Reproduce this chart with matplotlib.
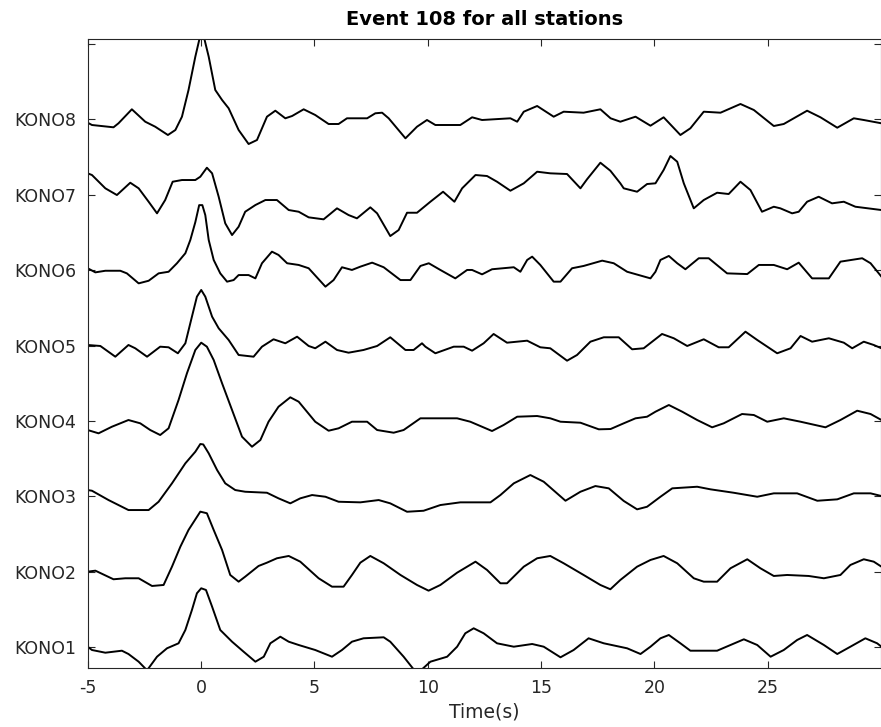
import matplotlib
matplotlib.use("Agg")
from matplotlib import pyplot as plt
import numpy as np

# station names, bottom to top
stations = ["KONO1", "KONO2", "KONO3", "KONO4", "KONO5", "KONO6", "KONO7", "KONO8"]

# traces: time (s) and amplitude (arbitrary units)
t_kono1 = [-5.0, -4.81, -4.22, -3.49, -3.2, -2.75, -2.38, -1.94, -1.5, -0.99, -0.69, -0.4, -0.18, 0.01, 0.22,
           0.49, 0.85, 1.37, 1.88, 2.4, 2.77, 3.06, 3.5, 3.87, 4.31, 5.04, 5.78, 6.22, 6.66, 7.17, 8.06, 8.35,
           8.94, 9.38, 9.75, 10.12, 10.86, 11.3, 11.66, 12.03, 12.47, 13.06, 13.8, 14.61, 15.12, 15.86, 16.44,
           17.1, 17.77, 18.8, 19.39, 19.83, 20.27, 20.64, 21.15, 21.59, 22.77, 23.36, 23.95, 24.54, 25.13,
           25.71, 26.3, 26.74, 27.48, 28.07, 28.65, 29.31, 29.83, 30.02]
a_kono1 = [0.6, -2.7, -5.4, -3.4, -6.7, -14.4, -23, -9.4, -1, 4, 17.3, 37.3, 54, 59, 57.3,
           40.6, 17.3, 5.6, -4.4, -14.4, -9.4, 4, 10.6, 5.6, 2.3, -2.7, -9.4, -2.7, 5.6, 9, 10, 5.6,
           -9.4, -22, -22, -14.4, -9.4, 0.6, 14, 19, 14, 4, 0.6, 3.3, 0.6, -10, -2.7,
           9, 4, -1, -6.7, 0.6, 9, 12.3, 4, -3.4, -3.4, 2.3, 8, 2.3, -9.4,
           -2.7, 7.3, 12.3, 2.3, -6.7, 0.6, 9, 4, 0.6]

t_kono2 = [-5.0, -4.66, -3.86, -3.34, -2.75, -2.16, -1.65, -1.28, -0.91, -0.55, -0.03, 0.26, 0.56, 0.93,
           1.29, 1.66, 1.95, 2.54, 2.91, 3.35, 3.87, 4.38, 5.19, 5.78, 6.29, 6.66, 7.03, 7.47, 8.06, 8.8,
           9.53, 10.04, 10.56, 11.3, 12.11, 12.62, 13.21, 13.5, 14.24, 14.83, 15.41, 16.0, 16.88, 17.62,
           18.06, 18.5, 19.24, 19.83, 20.41, 21.01, 21.74, 22.18, 22.77, 23.36, 24.1, 24.68, 25.27, 25.86,
           26.81, 27.48, 28.21, 28.65, 29.24, 29.68, 30.02]
a_kono2 = [0.2, 1.2, -7.4, -6.4, -6.4, -14.1, -13.1, 5.2, 25.2, 41.9, 60.2, 58.6, 41.9, 21.9,
           -3.1, -9.8, -4.8, 5.9, 9.2, 13.6, 15.9, 10.2, -6.4, -14.8, -14.8, -3.1, 9.2, 15.9, 8.6, -3.1,
           -13.1, -18.8, -13.1, -0.8, 10.2, 1.9, -11.4, -11.4, 5.2, 13.6, 15.9, 8.6, -3.1, -13.1,
           -17.4, -8.1, 5.2, 11.9, 15.9, 8.6, -6.4, -9.8, -9.8, 3.6, 12.6, 3.6, -4.1, -3.1,
           -4.1, -6.4, -3.1, 6.9, 12.6, 10.2, 5.2]

t_kono3 = [-5.0, -4.81, -4.08, -3.2, -2.31, -1.87, -1.28, -0.69, -0.25, -0.03, 0.1, 0.34, 0.71, 1.07,
           1.51, 1.95, 2.91, 3.42, 3.94, 4.38, 4.9, 5.49, 6.07, 7.03, 7.84, 8.35, 9.09, 9.82, 10.56, 11.44,
           12.77, 13.21, 13.8, 14.53, 15.12, 16.08, 16.74, 17.4, 17.99, 18.65, 19.24, 19.68, 20.27, 20.79,
           21.89, 22.48, 23.5, 24.54, 25.27, 26.3, 27.19, 28.07, 28.8, 29.54, 30.02]
a_kono3 = [6.4, 5.7, -3.6, -13.6, -13.6, -5.3, 13.1, 33.1, 44.7, 52.4, 52, 43.1, 26.4, 13.1,
           6.4, 4.7, 3.7, -1.9, -6.9, -1.9, 1.4, -0.3, -5.3, -5.9, -3.6, -6.9, -15.3, -14.3, -8.6, -5.9,
           -5.9, 1.4, 13.1, 21.4, 14.7, -4.3, 4.7, 10.4, 8.1, -4.5, -12.9, -10.3, -0.3, 8.1,
           9.7, 7.1, 3.7, -0.3, 3.1, 3.1, -4.3, -2.9, 3.1, 3.1, 0.4]

t_kono4 = [-5.0, -4.52, -3.93, -3.2, -2.68, -2.24, -1.8, -1.43, -0.99, -0.62, -0.25, 0.01, 0.26, 0.56,
           0.93, 1.37, 1.81, 2.25, 2.62, 2.98, 3.42, 3.94, 4.31, 5.04, 5.63, 6.07, 6.66, 7.33, 7.77, 8.5,
           8.94, 9.68, 11.3, 11.88, 12.84, 13.35, 13.95, 14.83, 15.41, 15.86, 16.74, 17.55, 18.07, 18.65,
           19.17, 19.68, 20.05, 20.64, 21.23, 21.89, 22.55, 23.06, 23.87, 24.39, 24.98, 25.71, 26.45,
           27.55, 28.21, 28.95, 29.54, 30.02]
a_kono4 = [-9, -12.3, -5.7, 1, -2.3, -9, -14, -7.3, 21, 47.7, 71, 78.3, 74.3, 61,
           37.7, 11, -15.7, -25.7, -19, -0.7, 14.3, 23.7, 19.3, -0.7, -9.7, -7.3, -0.7, -0.7, -9, -11.7,
           -9, 2.7, 2.7, -0.7, -10, -4, 4.3, 5, 2.7, -0.7, -1.7, -8.3, -8, -2.3,
           2.7, 4.3, 9.3, 16, 9.3, 1, -6.3, -2.3, 7, 6, -0.7, 2.7, -0.7,
           -6.3, 1, 10.3, 7, 1]

t_kono5 = [-5.0, -4.44, -3.78, -3.2, -2.9, -2.38, -1.8, -1.43, -1.02, -0.69, -0.4, -0.18, 0.01, 0.19,
           0.49, 0.78, 1.22, 1.66, 2.32, 2.69, 3.2, 3.72, 4.24, 4.75, 5.04, 5.49, 6.0, 6.51, 7.17, 7.77,
           8.35, 9.02, 9.38, 9.75, 9.9, 10.34, 11.15, 11.59, 11.96, 12.47, 12.91, 13.5, 14.39, 14.97,
           15.41, 16.15, 16.59, 17.18, 17.77, 18.43, 19.02, 19.53, 20.34, 20.86, 21.45, 22.18, 22.84,
           23.28, 24.02, 24.54, 25.42, 26.01, 26.45, 26.96, 27.7, 28.36, 28.73, 29.24, 29.68, 30.02]
a_kono5 = [0.6, -0.4, -11.1, 0.6, -2.7, -11.1, -1.1, -1.7, -7.7, 2.3, 28.9, 48.9, 55.6, 48.9,
           28.9, 17.3, 5.6, -9.4, -11.1, -1.1, 6.3, 2.3, 8.9, -0.4, -2.7, 3.9, -4.4, -7.1, -4.4, -0.4,
           8.3, -4.4, -4.4, 2.3, -1.1, -7.7, -1.1, -1.1, -5.1, 2.3, 11.6, 2.9, 4.9, -1.7,
           -2.7, -15.1, -9.4, 3.9, 8.3, 8.3, -3.7, -2.7, 11.6, 7.3, -0.4, 6.3, -1.7,
           -1.7, 13.9, 5.6, -7.7, -2.7, 9.6, 3.9, 7.3, 2.9, -2.7, 3.9, 0.6, -2.7]

t_kono6 = [-5.0, -4.66, -4.22, -3.56, -3.27, -2.75, -2.31, -1.87, -1.43, -1.06, -0.69, -0.47, -0.25,
           -0.08, 0.06, 0.19, 0.34, 0.56, 0.85, 1.15, 1.44, 1.66, 2.1, 2.4, 2.69, 3.13, 3.42, 3.8, 4.31,
           4.75, 5.49, 5.85, 6.22, 6.66, 7.03, 7.55, 8.06, 8.8, 9.24, 9.68, 10.05, 10.56, 11.22, 11.74,
           11.96, 12.4, 12.84, 13.8, 14.09, 14.39, 14.61, 14.97, 15.56, 15.86, 16.37, 16.88, 17.7, 18.21,
           18.8, 19.83, 20.05, 20.27, 20.64, 21.01, 21.37, 21.96, 22.4, 23.21, 24.1, 24.61, 25.27, 25.86,
           26.37, 26.96, 27.7, 28.21, 29.17, 29.54, 30.02]
a_kono6 = [1.9, -2.2, -0.6, -0.6, -3.2, -13.2, -10.6, -3.2, -1.6, 6.9, 16.9, 30.2, 48,
           65, 65, 55, 30.2, 10.2, -3.2, -11.5, -9.9, -4.9, -4.9, -8.2, 6.9, 18.5, 15.2, 6.9, 5.2,
           1.9, -16.5, -9.9, 2.9, 0.2, 3.5, 7.5, 2.9, -9.9, -9.9, 4.2, 6.9, 0.2, -8.2, 0.2,
           0.2, -4.2, 0.9, 2.9, -1.6, 10.2, 13.5, 5.2, -11.5, -11.5, 1.9, 4.2, 9.5, 6.9,
           -1.6, -8.2, -1.6, 10.2, 14.2, 6.9, 0.9, 11.9, 11.9, -3.2, -3.9, 5.2, 5.2, 0.9,
           7.5, -8.2, -8.2, 8.5, 11.9, 6.9, -6.5]

t_kono7 = [-5.0, -4.81, -4.22, -3.71, -3.12, -2.75, -2.31, -1.94, -1.58, -1.25, -0.84, -0.25, -0.03,
           0.26, 0.49, 0.78, 1.07, 1.37, 1.66, 1.95, 2.4, 2.84, 3.35, 3.87, 4.31, 4.75, 5.41, 6.0, 6.51,
           6.88, 7.47, 7.77, 8.35, 8.72, 9.09, 9.53, 10.12, 10.68, 11.18, 11.52, 12.11, 12.62, 13.06,
           13.65, 14.24, 14.83, 15.41, 16.15, 16.74, 17.03, 17.62, 18.06, 18.5, 18.65, 19.24, 19.68,
           20.05, 20.41, 20.71, 21.01, 21.3, 21.74, 22.18, 22.77, 23.28, 23.8, 24.24, 24.75, 25.27,
           25.56, 26.08, 26.37, 26.74, 27.25, 27.84, 28.36, 28.87, 30.02]
a_kono7 = [21.4, 19.7, 6.4, -0.3, 12, 6.4, -7, -18.6, -5.3, 13, 14.7, 14.7, 18,
           27, 21.4, -2, -28.6, -40.3, -32, -17, -10.3, -5.3, -5.3, -15.3, -17, -22.6, -24.6, -13.6, -20.3,
           -23.6, -12.6, -18.6, -41.3, -35.3, -18, -18, -7, 3, -7, 6.4, 19.7, 18.7, 13,
           4, 11.4, 23, 21.4, 20.7, 6.4, 15.4, 32, 24, 11.4, 6.4, 3, 10.7,
           11.4, 24.7, 38.7, 33, 11.4, -13.6, -5.3, 2, 0.7, 13, 4.7, -17, -12,
           -13.6, -18.6, -17, -7, -2, -8.6, -7, -12, -15.3]

t_kono8 = [-5.0, -4.81, -3.86, -3.64, -3.05, -2.46, -2.02, -1.46, -1.13, -0.84, -0.55, -0.25, -0.03,
           0.11, 0.34, 0.63, 0.93, 1.22, 1.66, 2.1, 2.47, 2.91, 3.28, 3.72, 4.02, 4.53, 5.04, 5.63, 6.07,
           6.44, 7.33, 7.69, 7.99, 8.28, 9.02, 9.53, 9.97, 10.34, 11.44, 11.96, 12.4, 13.65, 13.95, 14.24,
           14.83, 15.56, 16.0, 16.88, 17.62, 18.07, 18.5, 19.17, 19.83, 20.41, 21.15, 21.59, 22.18, 22.92,
           23.8, 24.39, 25.27, 25.71, 26.74, 27.33, 28.07, 28.8, 29.24, 30.02]
a_kono8 = [-3.4, -5.7, -8, -4, 10, -2.4, -7.4, -15.7, -10.7, 2.6, 29.3, 62.6, 84,
           84, 62.6, 29.3, 19.3, 11, -10.7, -24.7, -20.7, 2.6, 8.6, 1, 3.3, 10, 4.3, -4.7, -4.7,
           1, 1, 6, 6.6, 1, -19, -7.4, -0.7, -5.7, -5.7, 2, -0.7, 1, -2.4, 7.6,
           13.3, 2.6, 7.6, 6.6, 10, 1, -2.4, 2.6, -6.4, 2, -15.7, -9, 7.6, 6.6,
           15.3, 9.3, -6.7, -4.7, 8.6, 2, -8.4, 1, -0.7, -4]

times = [t_kono1, t_kono2, t_kono3, t_kono4, t_kono5, t_kono6, t_kono7, t_kono8]
amps = [a_kono1, a_kono2, a_kono3, a_kono4, a_kono5, a_kono6, a_kono7, a_kono8]
amp_scale = 75.4  # amplitude units per station spacing

xticks = [-5, 0, 5, 10, 15, 20, 25]

fig = plt.figure(figsize=(8.81, 7.27), dpi=100)
ax = fig.add_axes([0.0995, 0.0812, 0.9005, 0.8652])

for k, (t, a) in enumerate(zip(times, amps)):
    ax.plot(t, np.array(a) / amp_scale + (k + 1), color="black", lw=1.4)

ax.set_xlim(-5, 30.0)
ax.set_ylim(0.726, 9.065)
ax.set_xticks(xticks)
ax.set_xticklabels([str(x) for x in xticks])
ax.set_yticks(range(1, 10))
ax.set_yticklabels(stations + [""])
ax.tick_params(direction="in", top=True, right=True, length=5, labelsize=12.5,
               colors="#262626", pad=8)
for s in ax.spines.values():
    s.set_color("#262626")
    s.set_linewidth(0.8)
ax.set_xlabel("Time(s)", fontsize=13.5, color="#262626")
ax.set_title("Event 108 for all stations", fontsize=14, fontweight="bold", color="black", pad=10)

plt.savefig("out.png", dpi=100)
plt.close()
